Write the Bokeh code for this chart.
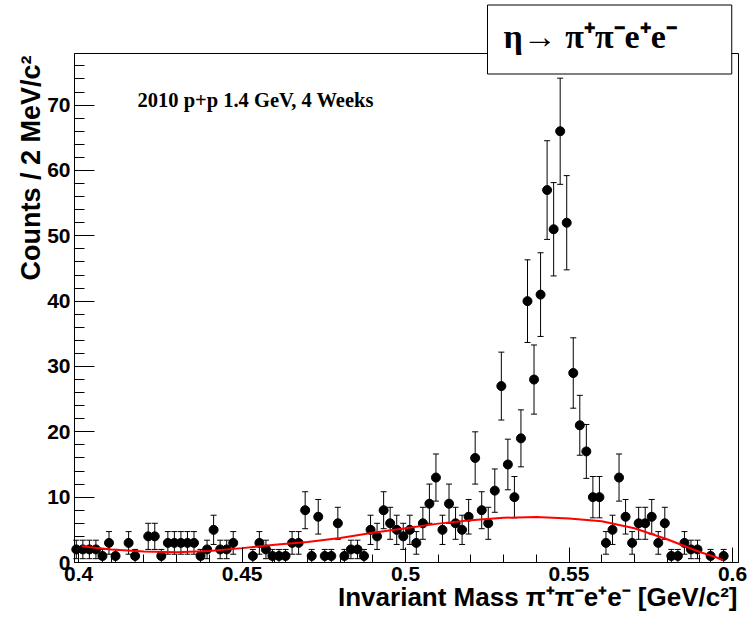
import numpy as np
from bokeh.plotting import figure
from bokeh.models import (Label, SingleIntervalTicker, CustomJSTickFormatter, Range1d,
                          ColumnDataSource, BoxAnnotation)
from bokeh.embed import file_html
from bokeh.resources import INLINE

# ---- data ----
bin_start = 0.3993      # centre of the first 2 MeV bin (GeV/c^2)
bin_width = 0.002
counts = [2, 2, 2, 2, 1, 3, 1, 0, 3, 1,
          0, 4, 4, 1, 3, 3, 3, 3, 3, 1,
          2, 5, 2, 2, 3, 0, 0, 1, 3, 2,
          1, 1, 1, 3, 3, 8, 1, 7, 1, 1,
          6, 1, 2, 2, 1, 5, 4, 8, 6, 5,
          4, 5, 3, 6, 9, 13, 5, 9, 6, 5,
          7, 16, 8, 6, 11, 27, 15, 10, 19, 40,
          28, 41, 57, 51, 66, 52, 29, 21, 17, 10,
          10, 3, 5, 13, 7, 3, 6, 6, 7, 3,
          6, 1, 1, 3, 2, 2, 0, 1, 0, 1]
fit_x = [0.401, 0.405, 0.410, 0.420, 0.430, 0.440, 0.450, 0.460, 0.470, 0.480,
         0.490, 0.500, 0.510, 0.520, 0.530, 0.540, 0.550, 0.560, 0.570, 0.580,
         0.590, 0.595, 0.597]
fit_y = [2.5, 2.25, 2.0, 1.68, 1.55, 1.75, 2.2, 2.7, 3.15, 3.75,
         4.55, 5.25, 5.95, 6.45, 6.85, 6.95, 6.75, 6.3, 5.25, 3.55,
         1.6, 0.8, 0.35]
x_ticks_interval = 0.05
y_ticks_interval = 10

title_text = "η→ π⁺π⁻e⁺e⁻"
info_text = "2010 p+p 1.4 GeV, 4 Weeks"
x_title = "Invariant Mass π⁺π⁻e⁺e⁻ [GeV/c²]"
y_title = "Counts / 2 MeV/c²"

# ---- axis frame (data units) ----
X0, X1 = 0.39875, 0.60184
Y0, Y1 = 0.0, 77.9
W, H = 747, 619
FL, FR, FT, FB = 74, 738, 53, 562          # frame edges in pixels
xs = (X1 - X0) / (FR - FL)
ys = (Y1 - Y0) / (FB - FT)

counts = np.array(counts, dtype=float)
xc = bin_start + bin_width * np.arange(len(counts))
mask = counts > 0
err = np.sqrt(counts)
src = ColumnDataSource(dict(x=xc[mask], y=counts[mask],
                            lo=(counts - err)[mask], hi=(counts + err)[mask]))

p = figure(width=W, height=H, output_backend="svg", toolbar_location=None,
           x_range=Range1d(X0 - FL * xs, X1 + (W - FR) * xs),
           y_range=Range1d(Y0 - (H - FB) * ys, Y1 + FT * ys),
           min_border=0, title_location=None)
p.background_fill_color = "white"
p.border_fill_color = "white"
p.outline_line_color = None
p.xgrid.visible = False
p.ygrid.visible = False

for ax in (p.xaxis, p.yaxis):
    ax.axis_line_color = "black"
    ax.major_tick_line_color = "black"
    ax.minor_tick_line_color = "black"
    ax.major_label_text_font = "Liberation Sans"
    ax.major_label_text_font_style = "bold"
    ax.major_label_text_font_size = "21px"
    ax.major_label_text_color = "black"
    ax.major_tick_out = 0
    ax.minor_tick_out = 0
    ax.major_label_standoff = 4

p.xaxis.fixed_location = Y0
p.yaxis.fixed_location = X0
p.xaxis.bounds = (X0, X1)
p.yaxis.bounds = (Y0, Y1)
p.xaxis.ticker = SingleIntervalTicker(interval=x_ticks_interval, num_minor_ticks=5)
p.yaxis.ticker = SingleIntervalTicker(interval=y_ticks_interval, num_minor_ticks=5)
p.xaxis.formatter = CustomJSTickFormatter(code="return String(parseFloat(tick.toFixed(3)));")
p.xaxis.major_tick_in = 15
p.xaxis.minor_tick_in = 8
p.yaxis.major_tick_in = 20
p.yaxis.minor_tick_in = 10

# frame box
p.add_layout(BoxAnnotation(left=X0, right=X1, bottom=Y0, top=Y1, fill_alpha=0,
                           line_color="black", line_width=1, line_alpha=1))

# error bars
p.segment(x0="x", y0="lo", x1="x", y1="hi", source=src, line_color="black", line_width=1)
p.scatter(x="x", y="hi", source=src, marker="dash", size=6, line_color="black", line_width=1)
p.scatter(x="x", y="lo", source=src, marker="dash", size=6, line_color="black", line_width=1)
# points
p.scatter(x="x", y="y", source=src, marker="circle", size=9, fill_color="black", line_color="black")
# fit curve
p.line(fit_x, fit_y, line_color="#ff0000", line_width=2)

# texts (screen units: pixels from the bottom-left corner of the canvas)
p.add_layout(Label(x=30, y=H - 55, x_units="screen", y_units="screen", text=y_title,
                   angle=np.pi / 2, text_align="right", text_baseline="alphabetic",
                   text_font="Liberation Sans", text_font_style="bold", text_font_size="27px",
                   text_color="black"))
p.add_layout(Label(x=737, y=H - 596, x_units="screen", y_units="screen", text=x_title,
                   text_align="right", text_baseline="alphabetic",
                   text_font="Liberation Sans", text_font_style="bold", text_font_size="26px",
                   text_color="black"))
p.add_layout(Label(x=137, y=H - 99, x_units="screen", y_units="screen", text=info_text,
                   text_align="left", text_baseline="alphabetic",
                   text_font="Liberation Serif", text_font_style="bold", text_font_size="20.5px",
                   text_color="black"))
p.add_layout(Label(x=487, y=H - 39, x_units="screen", y_units="screen", text=title_text,
                   text_align="left", text_baseline="middle",
                   text_font="Liberation Serif", text_font_style="bold", text_font_size="34px",
                   text_color="black", background_fill_color="white",
                   border_line_color="black", border_line_width=1,
                   padding=(16, 55, 13, 19)))

open("out.html", "w").write(file_html(p, INLINE))
